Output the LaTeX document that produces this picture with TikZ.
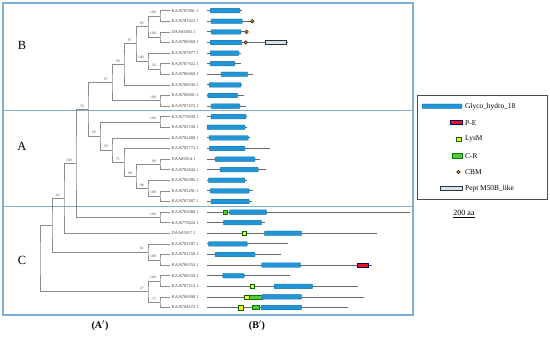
\documentclass[tikz,border=0pt]{standalone}
\usepackage{fontspec}
\setmainfont{Liberation Serif}
\definecolor{panel}{RGB}{125,175,212}
\definecolor{treeg}{RGB}{140,140,140}
\definecolor{bbg}{RGB}{105,105,105}
\definecolor{ghfill}{RGB}{32,150,214}
\definecolor{ghdraw}{RGB}{25,105,165}
\definecolor{pefill}{RGB}{235,20,30}
\definecolor{lysfill}{RGB}{250,245,20}
\definecolor{crfill}{RGB}{90,200,60}
\definecolor{cbmfill}{RGB}{225,130,50}
\definecolor{peptfill}{RGB}{210,228,242}
\newcommand\ghd[3]{\filldraw[gh] (#2,#1-2.3) rectangle (#3,#1+2.3);}
\newcommand\bbl[2]{\draw[bb] (207,#1) -- (#2,#1);}
\newcommand\lysd[2]{\filldraw[lys] (#2,#1-2.2) rectangle ++(4.4,4.4);}
\newcommand\crd[3]{\filldraw[cr] (#2,#1-2.1) rectangle (#3,#1+2.1);}
\newcommand\ped[3]{\filldraw[pe] (#2,#1-2.0) rectangle (#3,#1+2.0);}
\newcommand\cbmd[2]{\filldraw[cbm] (#2,#1) circle (1.8);}
\newcommand\peptd[3]{\filldraw[pept] (#2,#1-1.8) rectangle (#3,#1+1.8);}
\begin{document}
\begin{tikzpicture}[x=1pt,y=-1pt,
  tree/.style={draw=treeg,line width=0.6pt},
  bb/.style={draw=bbg,line width=0.8pt},
  gh/.style={fill=ghfill,draw=ghdraw,line width=0.3pt,rounded corners=0.7pt},
  lys/.style={fill=lysfill,draw=black!60!green,line width=0.4pt},
  cr/.style={fill=crfill,draw=black!50!green,line width=0.4pt},
  pe/.style={fill=pefill,draw=blue!40!black,line width=0.4pt},
  cbm/.style={fill=cbmfill,draw=black!80!brown,line width=0.5pt},
  pept/.style={fill=peptfill,draw=black!80,line width=0.6pt},
  leaf/.style={anchor=west,inner sep=0pt,xshift=1.5pt,font=\fontsize{4.4}{5}\selectfont,text=black!75},
  bs/.style={anchor=south east,inner sep=0.2pt,xshift=-4pt,yshift=1.8pt,font=\fontsize{3.6}{4}\selectfont,text=black!75},
  legtext/.style={anchor=west,inner sep=0pt,font=\fontsize{7.4}{8}\selectfont},
  clade/.style={font=\fontsize{12.5}{13}\selectfont}
]
\useasboundingbox (0,0) rectangle (550,337);
% panels
\draw[panel,line width=1.1pt] (3,3) rectangle (413,315);
\draw[panel,line width=1.1pt] (3,110.7) -- (413,110.7);
\draw[panel,line width=1.1pt] (3,206.8) -- (413,206.8);
\node[clade] (cB) at (22,45.7) {B};
\node[clade] (cA) at (22,146.7) {A};
\node[clade] (cC) at (22,260) {C};
% leaves
\foreach \i/\t in {1/KAJ6787801.1,2/KAJ6781922.1,3/DAA05803.1,4/KAJ6780968.1,5/KAJ6787877.1,6/KAJ6787922.1,7/KAJ6786669.1,8/KAJ6780036.1,9/KAJ6780601.1,10/KAJ6787472.1,11/KAJ6779939.1,12/KAJ6782108.1,13/KAJ6782480.1,14/KAJ6785773.1,15/DAA05814.1,16/KAJ6782844.1,17/KAJ6786286.1,18/KAJ6783291.1,19/KAJ6787487.1,20/KAJ6783088.1,21/KAJ6779824.1,22/DAA05817.1,23/KAJ6783597.1,24/KAJ6781550.1,25/KAJ6786554.1,26/KAJ6788550.1,27/KAJ6787213.1,28/KAJ6784990.1,29/KAJ6784672.1}{
  \coordinate (e\i) at (170,{10.7+(\i-1)*10.6});
  \node[leaf] (l\i) at (e\i) {\t};
}
% internal nodes
\coordinate (n12) at (160,16.0);
\coordinate (n34) at (160,37.2);
\coordinate (n1234) at (148,26.6);
\coordinate (n67) at (160,69.0);
\coordinate (n567) at (148,61.05);
\coordinate (n17) at (136,43.8);
\coordinate (n18) at (124,64.4);
\coordinate (n910) at (160,100.8);
\coordinate (nB) at (112,82.6);
\coordinate (n1112) at (160,122.0);
\coordinate (n1516) at (160,164.4);
\coordinate (n1819) at (160,196.2);
\coordinate (n1719) at (148,188.25);
\coordinate (r3) at (136,176.3);
\coordinate (r2) at (124,162.4);
\coordinate (r1) at (112,150.15);
\coordinate (nA) at (100,136.1);
\coordinate (nBA) at (88,109.35);
\coordinate (n2021) at (160,217.4);
\coordinate (nX) at (76,163.4);
\coordinate (nY) at (64,198.35);
\coordinate (n2425) at (160,259.8);
\coordinate (n2325) at (148,251.85);
\coordinate (nZ) at (52,225.1);
\coordinate (n2627) at (160,281.0);
\coordinate (n2829) at (160,302.2);
\coordinate (n2629) at (148,291.6);
\coordinate (nR) at (40,258.35);
% branches
\draw[tree] (e1) -| (n12) |- (e2);
\draw[tree] (e3) -| (n34) |- (e4);
\draw[tree] (n12) -| (n1234) |- (n34);
\draw[tree] (e6) -| (n67) |- (e7);
\draw[tree] (e5) -| (n567) |- (n67);
\draw[tree] (n1234) -| (n17) |- (n567);
\draw[tree] (n17) -| (n18) |- (e8);
\draw[tree] (e9) -| (n910) |- (e10);
\draw[tree] (n18) -| (nB) |- (n910);
\draw[tree] (e11) -| (n1112) |- (e12);
\draw[tree] (e15) -| (n1516) |- (e16);
\draw[tree] (e18) -| (n1819) |- (e19);
\draw[tree] (e17) -| (n1719) |- (n1819);
\draw[tree] (n1516) -| (r3) |- (n1719);
\draw[tree] (e14) -| (r2) |- (r3);
\draw[tree] (e13) -| (r1) |- (r2);
\draw[tree] (n1112) -| (nA) |- (r1);
\draw[tree] (nB) -| (nBA) |- (nA);
\draw[tree] (e20) -| (n2021) |- (e21);
\draw[tree] (nBA) -| (nX) |- (n2021);
\draw[tree] (nX) -| (nY) |- (e22);
\draw[tree] (e24) -| (n2425) |- (e25);
\draw[tree] (e23) -| (n2325) |- (n2425);
\draw[tree] (nY) -| (nZ) |- (n2325);
\draw[tree] (e26) -| (n2627) |- (e27);
\draw[tree] (e28) -| (n2829) |- (e29);
\draw[tree] (n2627) -| (n2629) |- (n2829);
\draw[tree] (nZ) -| (nR) |- (n2629);
% bootstrap values
\node[bs] (b1) at (n12) {100};
\node[bs] (b2) at (n34) {100};
\node[bs] (b3) at (n1234) {93};
\node[bs] (b4) at (n67) {54};
\node[bs] (b5) at (n567) {100};
\node[bs] (b6) at (n17) {97};
\node[bs] (b7) at (n18) {59};
\node[bs] (b8) at (n910) {100};
\node[bs] (b9) at (nB) {97};
\node[bs] (b10) at (n1112) {100};
\node[bs] (b11) at (n1516) {99};
\node[bs] (b12) at (n1819) {100};
\node[bs] (b13) at (n1719) {98};
\node[bs] (b14) at (r3) {98};
\node[bs] (b15) at (r2) {71};
\node[bs] (b16) at (r1) {59};
\node[bs] (b17) at (nA) {59};
\node[bs] (b18) at (nBA) {78};
\node[bs] (b19) at (n2021) {100};
\node[bs] (b20) at (nX) {100};
\node[bs] (b21) at (nY) {43};
\node[bs] (b22) at (n2425) {100};
\node[bs] (b23) at (n2325) {61};
\node[bs] (b24) at (n2627) {100};
\node[bs] (b25) at (n2829) {77};
\node[bs] (b26) at (n2629) {27};
% domain architectures
\bbl{10.7}{241.7} \ghd{10.7}{210}{240}
\bbl{21.3}{251} \ghd{21.3}{211}{242.3} \cbmd{21.3}{252.2}
\bbl{31.9}{246} \ghd{31.9}{211}{241} \cbmd{31.9}{246.5}
\bbl{42.5}{288.3} \ghd{42.5}{210}{241.7} \cbmd{42.5}{245.7} \peptd{42.5}{265}{286.7}
\bbl{53.1}{241} \ghd{53.1}{210}{239}
\bbl{63.7}{240.7} \ghd{63.7}{210}{235}
\bbl{74.3}{252.7} \ghd{74.3}{221}{247.7}
\bbl{84.9}{241.7} \ghd{84.9}{209}{241}
\bbl{95.5}{244.3} \ghd{95.5}{207.7}{237.7}
\bbl{106.1}{246} \ghd{106.1}{211}{240}
\bbl{116.7}{247.3} \ghd{116.7}{211}{246}
\bbl{127.3}{247.3} \ghd{127.3}{207}{245}
\bbl{137.9}{250} \ghd{137.9}{209}{248.3}
\bbl{148.5}{270} \ghd{148.5}{209.3}{245}
\bbl{159.1}{260} \ghd{159.1}{215}{255}
\bbl{169.7}{266} \ghd{169.7}{220}{258.3}
\bbl{180.3}{246.7} \ghd{180.3}{208.3}{245}
\bbl{190.9}{253.3} \ghd{190.9}{210}{249.3}
\bbl{201.5}{252.3} \ghd{201.5}{211}{249.3}
\bbl{212.1}{410} \crd{212.1}{223.3}{227.6} \ghd{212.1}{229.3}{266.7}
\bbl{222.7}{265} \ghd{222.7}{223.3}{261.7}
\bbl{233.3}{376.7} \lysd{233.3}{241.7} \ghd{233.3}{264.3}{301.7}
\bbl{243.9}{288.3} \ghd{243.9}{208.3}{247.3}
\bbl{254.5}{280.7} \ghd{254.5}{215}{255}
\bbl{265.1}{372.3} \ghd{265.1}{261.7}{300.7} \ped{265.1}{357.3}{368.3}
\bbl{275.7}{290} \ghd{275.7}{222.7}{244.3}
\bbl{286.3}{358.3} \lysd{286.3}{250} \ghd{286.3}{274}{312.7}
\bbl{296.9}{364} \lysd{296.9}{244.3} \crd{296.9}{249.5}{261.7} \ghd{296.9}{261.7}{301.7}
\bbl{307.5}{348.3} \lysd{307.5}{238.3} \crd{307.5}{251.7}{259} \ghd{307.5}{261}{301.7}
% legend
\draw[draw=black!70,line width=0.7pt] (417,95.7) rectangle (547,199);
\filldraw[gh] (422,106.3-2.3) rectangle (462,106.3+2.3);
\node[legtext] (t1) at (465,106.3) {Glyco\_hydro\_18};
\filldraw[pe] (450,122.7-2.0) rectangle (462,122.7+2.0);
\node[legtext] (t2) at (465,122.7) {P-E};
\filldraw[lys] (456.5,139.3-2.2) rectangle ++(4.4,4.4);
\node[legtext] (t3) at (465,139.3) {LysM};
\filldraw[cr] (452,155.7-2.1) rectangle (462,155.7+2.1);
\node[legtext] (t4) at (465,155.7) {C-R};
\filldraw[cbm] (458.5,172) circle (1.8);
\node[legtext] (t5) at (465,172) {CBM};
\filldraw[pept] (440,188.3-1.8) rectangle (462,188.3+1.8);
\node[legtext] (t6) at (465,188.3) {Pept M50B\_like};
% scale
\node[font=\fontsize{8}{9}\selectfont,inner sep=0pt] (sc) at (464,212.5) {200 aa};
\draw[line width=1.1pt] (453,217.8) -- (475,217.8);
% panel captions
\node[font=\fontsize{10}{11}\selectfont\bfseries] (capA) at (100,325.5) {(A$'$)};
\node[font=\fontsize{10}{11}\selectfont\bfseries] (capB) at (257,325.5) {(B$'$)};
\end{tikzpicture}
\end{document}
